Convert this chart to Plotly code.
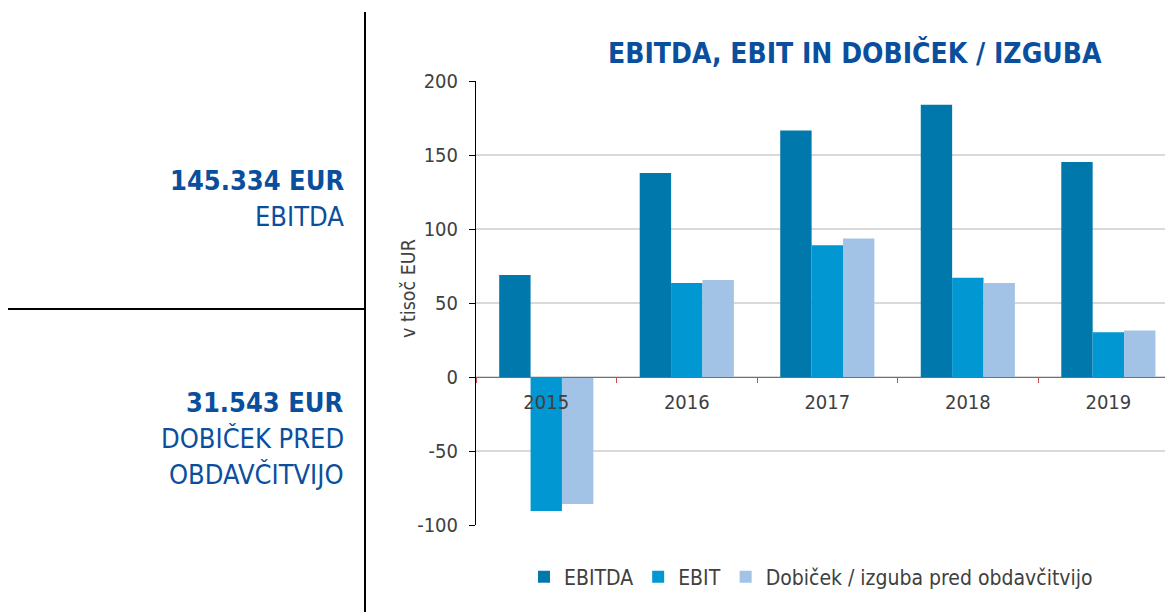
import plotly.graph_objects as go

years = ["2015", "2016", "2017", "2018", "2019"]
ebitda = [69.0, 137.8, 166.5, 184.0, 145.3]
ebit = [-90.5, 63.5, 89.0, 67.0, 30.3]
dobicek = [-85.8, 65.5, 93.5, 63.5, 31.5]
series_names = ["EBITDA", "EBIT", "Dobiček / izguba pred obdavčitvijo"]
colors = ["#0078AC", "#0097D2", "#A2C3E5"]
y_ticks = [-100, -50, 0, 50, 100, 150, 200]
y_tick_text = ["-100", "-50", "0", "50", "100", "150", "200"]

OFF = 8  # page body margin
W, H = 1173 - OFF, 612 - OFF
L, T, B = 476 - OFF, 81 - OFF, 525 - OFF
PW = W - L
PH = B - T

def px(x):
    return (x - OFF - L) / PW

def py(y):
    return (B - (y - OFF)) / PH

FONT = "Tahoma, 'DejaVu Sans Condensed', 'Liberation Sans Narrow', 'DejaVu Sans', sans-serif"
BLUE = "#0A4F9E"

fig = go.Figure()
for name, vals, c in zip(series_names, [ebitda, ebit, dobicek], colors):
    fig.add_trace(go.Bar(x=years, y=vals, name=name, marker=dict(color=c, line=dict(width=0))))

fig.update_layout(
    width=W, height=H,
    margin=dict(l=L, r=0, t=T, b=H - B, pad=0),
    paper_bgcolor="white", plot_bgcolor="white",
    barmode="group", bargap=0.33, bargroupgap=0,
    font=dict(family=FONT, size=18, color="#404040"),
    showlegend=True,
    legend=dict(orientation="h", x=px(524), y=py(577), yanchor="middle", xanchor="left",
                font=dict(size=21, color="#404040"), itemwidth=30, tracegroupgap=0),
    xaxis=dict(type="category", range=[-0.5, 4.46], anchor="free", position=py(377),
               showline=True, linecolor="#C0504D", linewidth=1,
               ticks="outside", tickson="boundaries", tickcolor="#C0504D", ticklen=5, tickwidth=1,
               showgrid=False, tickfont=dict(size=20, color="#404040"), ticklabelstandoff=7),
    yaxis=dict(range=[-100, 200], tickvals=y_ticks, ticktext=y_tick_text,
               showline=True, linecolor="#000000", linewidth=1,
               ticks="outside", ticklen=6, tickcolor="#000000",
               gridcolor="#D9D9D9", gridwidth=1.5, zeroline=False,
               tickfont=dict(size=20, color="#404040"), ticklabelstandoff=7),
)

fig.add_annotation(xref="paper", yref="paper", x=px(408), y=py(289), text="v tisoč EUR", textangle=-90,
                   showarrow=False, font=dict(size=19.5, color="#404040", family=FONT),
                   xanchor="center", yanchor="middle")

fig.add_annotation(xref="paper", yref="paper", x=px(855), y=py(53), text="<b>EBITDA, EBIT IN DOBIČEK / IZGUBA</b>",
                   showarrow=False, font=dict(size=28, color=BLUE, family=FONT), xanchor="center", yanchor="middle")

left_texts = [
    ("<b>145.334 EUR</b>", 180),
    ("EBITDA", 216),
    ("<b>31.543 EUR</b>", 402),
    ("DOBIČEK PRED", 438),
    ("OBDAVČITVIJO", 474),
]
for t, yy in left_texts:
    fig.add_annotation(xref="paper", yref="paper", x=px(346), y=py(yy), text=t, showarrow=False,
                       xanchor="right", yanchor="middle", font=dict(size=27, color=BLUE, family=FONT))

fig.add_shape(type="line", xref="paper", yref="paper", x0=px(365), x1=px(365), y0=py(12), y1=py(620),
              line=dict(color="black", width=2))
fig.add_shape(type="line", xref="paper", yref="paper", x0=px(7), x1=px(365), y0=py(309), y1=py(309),
              line=dict(color="black", width=2))

fig.write_html("out.html")
